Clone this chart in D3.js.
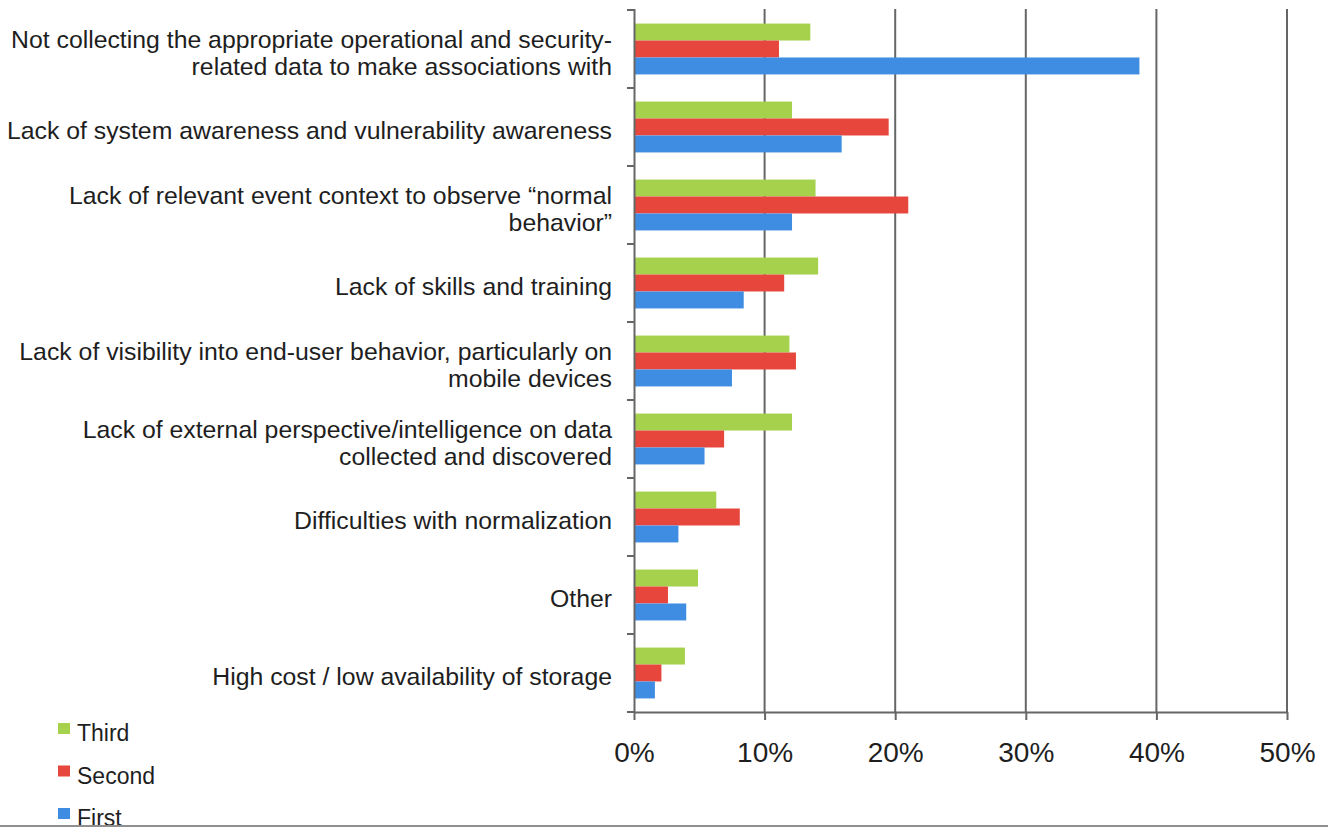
<!DOCTYPE html>
<html>
<head>
<meta charset="utf-8">
<script src="https://cdn.jsdelivr.net/npm/d3@7/dist/d3.min.js"></script>
<style>
  html, body { margin: 0; padding: 0; background: #fff; }
  svg { display: block; }
  text { font-family: "Liberation Sans", Arial, Helvetica, sans-serif; fill: #1e1e1e; }
</style>
</head>
<body>
<svg id="chart" width="1328" height="827"></svg>
<script>
const categories = [
  "Not collecting the appropriate operational and security-\nrelated data to make associations with",
  "Lack of system awareness and vulnerability awareness",
  "Lack of relevant event context to observe \u201cnormal\nbehavior\u201d",
  "Lack of skills and training",
  "Lack of visibility into end-user behavior, particularly on\nmobile devices",
  "Lack of external perspective/intelligence on data\ncollected and discovered",
  "Difficulties with normalization",
  "Other",
  "High cost / low availability of storage"
];
const seriesNames = ["Third", "Second", "First"];
const thirdValues  = [13.5, 12.1, 13.9, 14.1, 11.9, 12.1, 6.3, 4.9, 3.9];
const secondValues = [11.1, 19.5, 21.0, 11.5, 12.4, 6.9, 8.1, 2.6, 2.1];
const firstValues  = [38.7, 15.9, 12.1, 8.4, 7.5, 5.4, 3.4, 4.0, 1.6];
const xTicks = [0, 10, 20, 30, 40, 50];
const colors = ["#a5d14c", "#e6463b", "#3e8de2"];

const seriesValues = [thirdValues, secondValues, firstValues];
const svg = d3.select("#chart");

const x = d3.scaleLinear().domain([0, 50]).range([634, 1287]);
const y = d3.scaleBand().domain(categories).range([10, 712]).padding(0);
const yInner = d3.scaleBand().domain(seriesNames).range([0, y.bandwidth()])
  .paddingInner(0).paddingOuter(0.8);
const color = d3.scaleOrdinal().domain(seriesNames).range(colors);

// vertical gridlines
svg.append("g").selectAll("line").data(xTicks.slice(1)).join("line")
  .attr("x1", d => x(d)).attr("x2", d => x(d))
  .attr("y1", 9).attr("y2", 712)
  .attr("stroke", "#666").attr("stroke-width", 2);

// bars
const groups = svg.append("g").selectAll("g").data(categories).join("g")
  .attr("transform", d => `translate(0,${y(d)})`);
groups.selectAll("rect")
  .data((c, i) => seriesNames.map((s, j) => ({ s, v: seriesValues[j][i] })))
  .join("rect")
  .attr("x", x(0))
  .attr("y", d => yInner(d.s))
  .attr("width", d => x(d.v) - x(0))
  .attr("height", yInner.bandwidth())
  .attr("fill", d => color(d.s));

// left axis
const yAxisG = svg.append("g");
yAxisG.append("line").attr("x1", 634.5).attr("x2", 634.5).attr("y1", 9).attr("y2", 713)
  .attr("stroke", "#666").attr("stroke-width", 2);
const boundaries = categories.map(c => y(c)).concat([y.range()[1]]);
yAxisG.selectAll("line.t").data(boundaries).join("line").attr("class", "t")
  .attr("x1", 627).attr("x2", 635).attr("y1", d => d).attr("y2", d => d)
  .attr("stroke", "#666").attr("stroke-width", 2);

// bottom axis
const xAxis = d3.axisBottom(x).tickValues(xTicks).tickSize(8).tickSizeOuter(0)
  .tickFormat(d => d + "%");
const xAxisG = svg.append("g").attr("transform", "translate(0,712)").call(xAxis);
xAxisG.select(".domain").attr("stroke", "#666").attr("stroke-width", 2);
xAxisG.selectAll(".tick line").attr("stroke", "#666").attr("stroke-width", 2);
xAxisG.selectAll(".tick text")
  .attr("y", 50).attr("dy", 0)
  .style("font-family", "'Liberation Sans', Arial, sans-serif")
  .style("font-size", "28px").attr("fill", "#1e1e1e");

// category labels
const labelG = svg.append("g");
categories.forEach(c => {
  const lines = c.split("\n");
  const cy = y(c) + y.bandwidth() / 2 + 12;
  const lh = 27;
  const t = labelG.append("text")
    .attr("text-anchor", "end")
    .style("font-size", "24.8px");
  lines.forEach((ln, k) => {
    t.append("tspan").attr("x", 612)
      .attr("y", cy + (k - (lines.length - 1) / 2) * lh)
      .text(ln);
  });
});

// legend
const legend = svg.append("g");
seriesNames.forEach((s, i) => {
  const ly = 723 + i * 42.5;
  legend.append("rect").attr("x", 58).attr("y", ly).attr("width", 12).attr("height", 11)
    .attr("fill", color(s));
  legend.append("text").attr("x", 77).attr("y", ly + 18)
    .style("font-size", "23px").text(s);
});

// bottom frame line
svg.append("rect").attr("x", 0).attr("y", 825).attr("width", 1328).attr("height", 2)
  .attr("fill", "#8f8f8f");
</script>
</body>
</html>
